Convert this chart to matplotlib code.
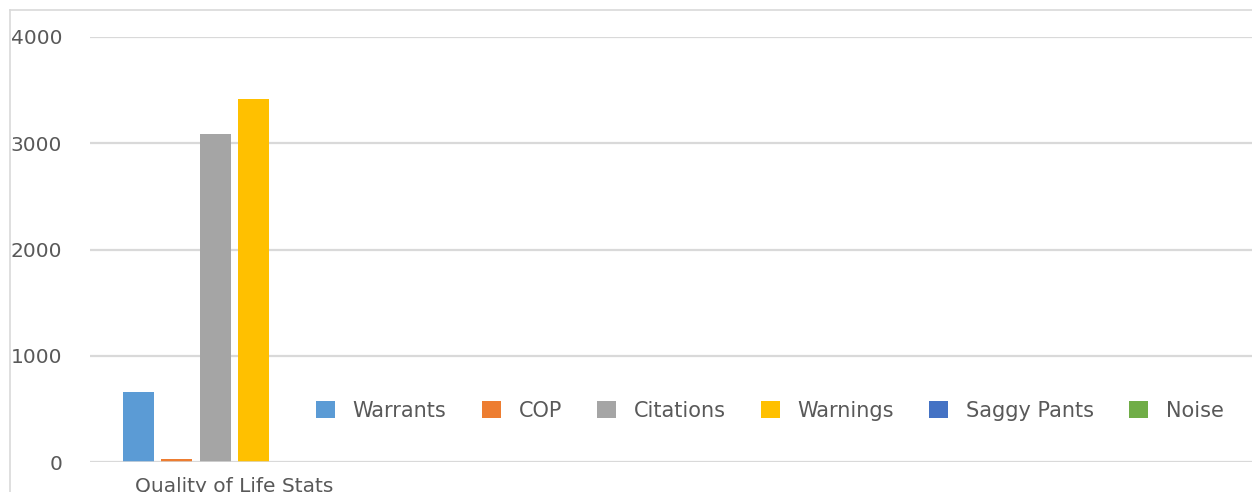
import matplotlib.pyplot as plt
from matplotlib.lines import Line2D

series = ['Warrants', 'COP', 'Citations', 'Warnings', 'Saggy Pants', 'Noise']
values = [660, 30, 3085, 3415, 0, 0]
colors = ['#5b9bd5', '#ed7d31', '#a5a5a5', '#ffc000', '#4472c4', '#70ad47']
category = 'Quality of Life Stats'

plt.rcParams['font.family'] = ['DejaVu Sans']
text_color = '#595959'
grid_color = '#d9d9d9'

fig = plt.figure(figsize=(12.52, 4.92), dpi=100)
ax = fig.add_axes([90 / 1252, 30 / 492, 1 - 90 / 1252, (462 - 37) / 492])

for i, (name, v, c) in enumerate(zip(series, values, colors)):
    ax.bar(i, v, width=0.8, color=c, label=name, zorder=3)

ax.set_xlim(-1.25, 28.9)
ax.set_ylim(0, 4000)
ax.set_yticks([0, 1000, 2000, 3000, 4000])
ax.set_xticks([(len(series) - 1) / 2])
ax.set_xticklabels([category])

ax.grid(axis='y', color=grid_color, linewidth=1.6, zorder=0)
for s in ax.spines.values():
    s.set_visible(False)
ax.axhline(0, color=grid_color, linewidth=1.8, zorder=4)
ax.tick_params(axis='both', length=0, colors=text_color, labelsize=14.5)
ax.tick_params(axis='y', pad=20)
ax.tick_params(axis='x', pad=11)

leg = ax.legend(loc='center left', bbox_to_anchor=(218 / 1162, 51 / 425), ncol=6,
                frameon=False, fontsize=15, handlelength=0.9, handleheight=0.9,
                handletextpad=0.85, columnspacing=1.7, borderaxespad=0)
for t in leg.get_texts():
    t.set_color(text_color)

# outer chart border (top and left)
fig.add_artist(Line2D([10 / 1252, 1], [1 - 10 / 492, 1 - 10 / 492], color=grid_color, linewidth=1.2))
fig.add_artist(Line2D([10 / 1252, 10 / 1252], [0, 1 - 10 / 492], color=grid_color, linewidth=1.2))

fig.savefig('out.png', dpi=100)
